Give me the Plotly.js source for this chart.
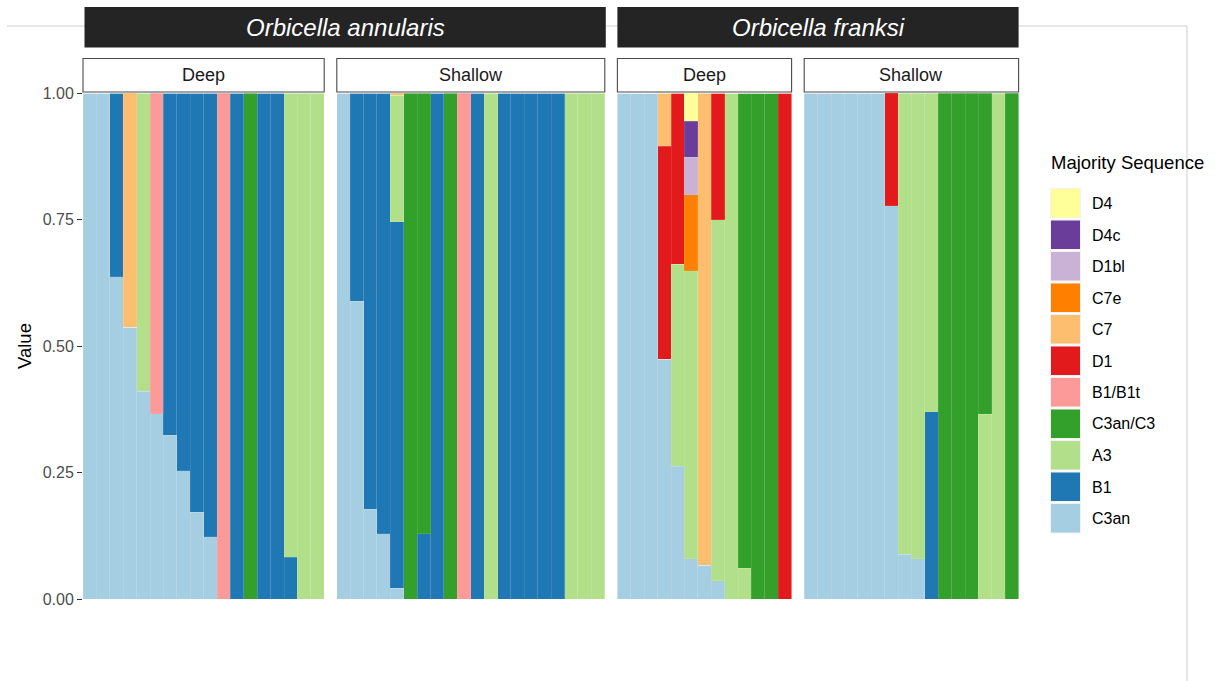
<!DOCTYPE html>
<html>
<head>
<meta charset="utf-8">
<script src="https://cdn.plot.ly/plotly-3.0.1.min.js"></script>
<style>
  html, body { margin: 0; padding: 0; background: #ffffff; }
  #chart { width: 1224px; height: 681px; }
</style>
</head>
<body>
<div id="chart"></div>
<script>
// ---------------- DATA ----------------
const sequences = ['C3an', 'B1', 'A3', 'C3an/C3', 'B1/B1t', 'D1', 'C7', 'C7e', 'D1bl', 'D4c', 'D4']; // stacking order bottom -> top
const legendOrder = ['D4', 'D4c', 'D1bl', 'C7e', 'C7', 'D1', 'B1/B1t', 'C3an/C3', 'A3', 'B1', 'C3an'];
const speciesLabels = ['Orbicella annularis', 'Orbicella franksi'];
const depthLabels = ['Deep', 'Shallow', 'Deep', 'Shallow'];
const yTickVals = [0, 0.25, 0.5, 0.75, 1];
const yTickText = ['0.00', '0.25', '0.50', '0.75', '1.00'];

// Orbicella annularis - Deep (18 samples)
const annDeep_C3an   = [1, 1, 0.637, 0.537, 0.411, 0.366, 0.324, 0.253, 0.171, 0.123, 0, 0, 0, 0, 0, 0, 0, 0];
const annDeep_B1     = [0, 0, 0.363, 0, 0, 0, 0.676, 0.747, 0.829, 0.877, 0, 1, 0, 1, 1, 0.083, 0, 0];
const annDeep_A3     = [0, 0, 0, 0, 0.589, 0, 0, 0, 0, 0, 0, 0, 0, 0, 0, 0.917, 1, 1];
const annDeep_C3anC3 = [0, 0, 0, 0, 0, 0, 0, 0, 0, 0, 0, 0, 1, 0, 0, 0, 0, 0];
const annDeep_B1B1t  = [0, 0, 0, 0, 0, 0.634, 0, 0, 0, 0, 1, 0, 0, 0, 0, 0, 0, 0];
const annDeep_C7     = [0, 0, 0, 0.463, 0, 0, 0, 0, 0, 0, 0, 0, 0, 0, 0, 0, 0, 0];

// Orbicella annularis - Shallow (20 samples)
const annShal_C3an   = [1, 0.588, 0.177, 0.129, 0.021, 0, 0, 0, 0, 0, 0, 0, 0, 0, 0, 0, 0, 0, 0, 0];
const annShal_B1     = [0, 0.412, 0.823, 0.871, 0.725, 0, 0.129, 1, 0, 0, 1, 0, 1, 1, 1, 1, 1, 0, 0, 0];
const annShal_A3     = [0, 0, 0, 0, 0.250, 0, 0, 0, 0, 0, 0, 1, 0, 0, 0, 0, 0, 1, 1, 1];
const annShal_C3anC3 = [0, 0, 0, 0, 0, 1, 0.871, 0, 1, 0, 0, 0, 0, 0, 0, 0, 0, 0, 0, 0];
const annShal_B1B1t  = [0, 0, 0, 0, 0, 0, 0, 0, 0, 1, 0, 0, 0, 0, 0, 0, 0, 0, 0, 0];
const annShal_C7     = [0, 0, 0, 0, 0.004, 0, 0, 0, 0, 0, 0, 0, 0, 0, 0, 0, 0, 0, 0, 0];

// Orbicella franksi - Deep (13 samples)
const fraDeep_C3an   = [1, 1, 1, 0.474, 0.262, 0.080, 0.067, 0.036, 0, 0, 0, 0, 0];
const fraDeep_A3     = [0, 0, 0, 0, 0.400, 0.569, 0, 0.714, 1, 0.061, 0, 0, 0];
const fraDeep_C3anC3 = [0, 0, 0, 0, 0, 0, 0, 0, 0, 0.939, 1, 1, 0];
const fraDeep_D1     = [0, 0, 0, 0.421, 0.338, 0, 0, 0.250, 0, 0, 0, 0, 1];
const fraDeep_C7     = [0, 0, 0, 0.105, 0, 0, 0.933, 0, 0, 0, 0, 0, 0];
const fraDeep_C7e    = [0, 0, 0, 0, 0, 0.150, 0, 0, 0, 0, 0, 0, 0];
const fraDeep_D1bl   = [0, 0, 0, 0, 0, 0.074, 0, 0, 0, 0, 0, 0, 0];
const fraDeep_D4c    = [0, 0, 0, 0, 0, 0.071, 0, 0, 0, 0, 0, 0, 0];
const fraDeep_D4     = [0, 0, 0, 0, 0, 0.056, 0, 0, 0, 0, 0, 0, 0];

// Orbicella franksi - Shallow (16 samples)
const fraShal_C3an   = [1, 1, 1, 1, 1, 1, 0.777, 0.088, 0.080, 0, 0, 0, 0, 0, 0, 0];
const fraShal_B1     = [0, 0, 0, 0, 0, 0, 0, 0, 0, 0.370, 0, 0, 0, 0, 0, 0];
const fraShal_A3     = [0, 0, 0, 0, 0, 0, 0, 0.912, 0.920, 0.630, 0, 0, 0, 0.365, 1, 0];
const fraShal_C3anC3 = [0, 0, 0, 0, 0, 0, 0, 0, 0, 0, 1, 1, 1, 0.635, 0, 1];
const fraShal_D1     = [0, 0, 0, 0, 0, 0, 0.223, 0, 0, 0, 0, 0, 0, 0, 0, 0];

// ---------------- STYLE ----------------
const seqColors = {
  'C3an': '#A6CEE3', 'B1': '#1F78B4', 'A3': '#B2DF8A', 'C3an/C3': '#33A02C',
  'B1/B1t': '#FB9A99', 'D1': '#E31A1C', 'C7': '#FDBF6F', 'C7e': '#FF7F00',
  'D1bl': '#CAB2D6', 'D4c': '#6A3D9A', 'D4': '#FFFF99'
};

const panelSeries = [
  {'C3an': annDeep_C3an, 'B1': annDeep_B1, 'A3': annDeep_A3, 'C3an/C3': annDeep_C3anC3, 'B1/B1t': annDeep_B1B1t, 'C7': annDeep_C7},
  {'C3an': annShal_C3an, 'B1': annShal_B1, 'A3': annShal_A3, 'C3an/C3': annShal_C3anC3, 'B1/B1t': annShal_B1B1t, 'C7': annShal_C7},
  {'C3an': fraDeep_C3an, 'A3': fraDeep_A3, 'C3an/C3': fraDeep_C3anC3, 'D1': fraDeep_D1, 'C7': fraDeep_C7, 'C7e': fraDeep_C7e, 'D1bl': fraDeep_D1bl, 'D4c': fraDeep_D4c, 'D4': fraDeep_D4},
  {'C3an': fraShal_C3an, 'B1': fraShal_B1, 'A3': fraShal_A3, 'C3an/C3': fraShal_C3anC3, 'D1': fraShal_D1}
];

const W = 1224, H = 681;
const px = v => v / W;
const py = v => 1 - v / H;
const FONT = 'Liberation Sans, Arial, Helvetica, sans-serif';

// panel pixel extents
const panelPx = [[83, 324.2], [336.8, 604.8], [617.4, 791.6], [804.2, 1018.6]];
const plotTop = 93, plotBottom = 599;

const axisIds = ['x', 'x2', 'x3', 'x4'];
const traces = [];
panelSeries.forEach((series, p) => {
  const xs = series['C3an'].map((_, i) => i);
  sequences.forEach(seq => {
    if (!series[seq]) return;
    traces.push({
      type: 'bar',
      x: xs,
      y: series[seq],
      xaxis: axisIds[p],
      yaxis: 'y',
      name: seq,
      showlegend: false,
      marker: { color: seqColors[seq], line: { color: 'rgba(255,255,255,0.2)', width: 0.5 } },
      hoverinfo: 'name+y'
    });
  });
});

const layout = {
  width: W, height: H,
  margin: { l: 0, r: 0, t: 0, b: 0 },
  paper_bgcolor: '#ffffff',
  plot_bgcolor: 'rgba(0,0,0,0)',
  barmode: 'stack',
  bargap: 0,
  showlegend: false,
  font: { family: FONT, color: '#000000' },
  yaxis: {
    domain: [py(plotBottom), py(plotTop)],
    range: [0, 1],
    anchor: 'x',
    tickvals: yTickVals,
    ticktext: yTickText,
    ticks: 'outside', ticklen: 5, tickwidth: 1, tickcolor: '#333333',
    tickfont: { family: FONT, size: 16, color: '#4d4d4d' },
    showgrid: false, zeroline: false, showline: false,
    fixedrange: true
  },
  shapes: [],
  annotations: []
};

panelSeries.forEach((series, p) => {
  const n = series['C3an'].length;
  const key = p === 0 ? 'xaxis' : 'xaxis' + (p + 1);
  layout[key] = {
    domain: [px(panelPx[p][0]), px(panelPx[p][1])],
    range: [-0.5, n - 0.5],
    anchor: 'y',
    showticklabels: false, ticks: '', showgrid: false, zeroline: false, showline: false,
    fixedrange: true
  };
});

// background frame lines
layout.shapes.push({ type: 'line', xref: 'paper', yref: 'paper', x0: px(7), x1: px(1187), y0: py(26), y1: py(26), line: { color: '#cfcfcf', width: 1 }, layer: 'below' });
layout.shapes.push({ type: 'line', xref: 'paper', yref: 'paper', x0: px(1187), x1: px(1187), y0: py(26), y1: 0, line: { color: '#cfcfcf', width: 1 }, layer: 'below' });

// species strips
const speciesPx = [[panelPx[0][0] + 1.5, panelPx[1][1] + 1], [panelPx[2][0], panelPx[3][1]]];
speciesPx.forEach((sp, i) => {
  layout.shapes.push({ type: 'rect', xref: 'paper', yref: 'paper', x0: px(sp[0]), x1: px(sp[1]), y0: py(47.5), y1: py(7), fillcolor: '#242424', line: { width: 0 } });
  layout.annotations.push({
    xref: 'paper', yref: 'paper', x: px((sp[0] + sp[1]) / 2), y: py(27.5), xanchor: 'center', yanchor: 'middle',
    text: '<i>' + speciesLabels[i] + '</i>', showarrow: false,
    font: { family: FONT, size: 24, color: '#ffffff' }
  });
});

// depth strips
panelPx.forEach((pp, i) => {
  layout.shapes.push({ type: 'rect', xref: 'paper', yref: 'paper', x0: px(pp[0]), x1: px(pp[1]), y0: py(92), y1: py(58.5), fillcolor: '#ffffff', line: { color: '#4a4a4a', width: 1.1 } });
  layout.annotations.push({
    xref: 'paper', yref: 'paper', x: px((pp[0] + pp[1]) / 2), y: py(75.5), xanchor: 'center', yanchor: 'middle',
    text: depthLabels[i], showarrow: false,
    font: { family: FONT, size: 18, color: '#1a1a1a' }
  });
});

// y axis title
layout.annotations.push({
  xref: 'paper', yref: 'paper', x: px(25), y: py((plotTop + plotBottom) / 2), xanchor: 'center', yanchor: 'middle',
  text: 'Value', textangle: -90, showarrow: false,
  font: { family: FONT, size: 18.5, color: '#000000' }
});

// legend (manual)
layout.annotations.push({
  xref: 'paper', yref: 'paper', x: px(1049), y: py(163), xanchor: 'left', yanchor: 'middle',
  text: 'Majority Sequence', showarrow: false,
  font: { family: FONT, size: 18.5, color: '#000000' }
});
legendOrder.forEach((seq, i) => {
  const top = 188.5 + i * 31.5;
  layout.shapes.push({ type: 'rect', xref: 'paper', yref: 'paper', x0: px(1050.5), x1: px(1080.5), y0: py(top + 29.5), y1: py(top), fillcolor: seqColors[seq], line: { color: '#f2f2f2', width: 1 } });
  layout.annotations.push({
    xref: 'paper', yref: 'paper', x: px(1090), y: py(top + 15), xanchor: 'left', yanchor: 'middle',
    text: seq, showarrow: false,
    font: { family: FONT, size: 16, color: '#000000' }
  });
});

Plotly.newPlot('chart', traces, layout, { displayModeBar: false, staticPlot: true });
</script>
</body>
</html>
